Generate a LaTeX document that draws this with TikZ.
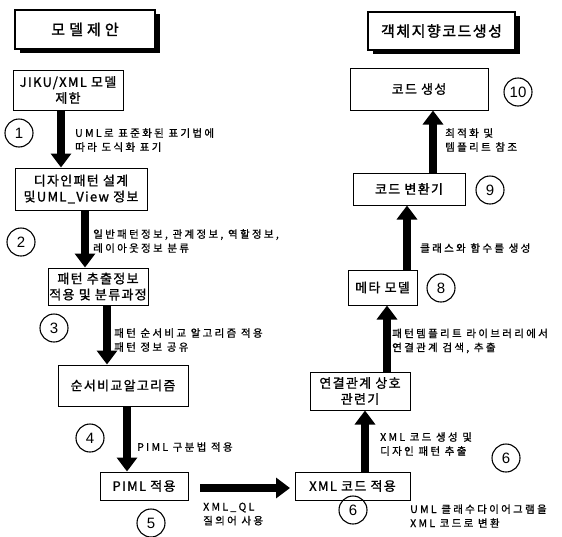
\documentclass[tikz,border=0pt]{standalone}
\usepackage{fontspec}
\setmainfont{Noto Sans CJK KR}
\newfontfamily\boxfont[LetterSpace=10, FakeBold=1.2]{Noto Sans CJK KR}
\newfontfamily\titlefontA[LetterSpace=27, FakeBold=1.5]{Noto Sans CJK KR}
\newfontfamily\titlefontB[LetterSpace=10, FakeBold=1.5]{Noto Sans CJK KR}
\newfontfamily\notefont[LetterSpace=22, FakeBold=0.8]{Noto Sans CJK KR}
\newfontfamily\numfont{Liberation Sans}
\usetikzlibrary{arrows.meta,shadows}
\tikzset{
  titlebox/.style={draw, line width=1.1pt, fill=white, inner sep=0pt,
    drop shadow={shadow xshift=4.5pt, shadow yshift=-4pt, fill=black, opacity=1}},
  procbox/.style={draw, line width=1pt, fill=white, inner sep=0pt, align=center,
    font=\boxfont\fontsize{13}{16}\selectfont},
  numcirc/.style={draw, circle, line width=1.1pt, minimum size=28pt, inner sep=0pt,
    font=\numfont\fontsize{15}{15}\selectfont},
  note/.style={anchor=west, align=left, inner sep=0pt,
    font=\notefont\fontsize{10.5}{14}\selectfont},
  fat/.style={line width=7.5pt, -{Triangle[width=20pt,length=14pt]}},
}
\begin{document}
\begin{tikzpicture}[x=1pt,y=-1pt]
\useasboundingbox (0,0) rectangle (562,536);
% titles
\node[titlebox, minimum width=140pt, minimum height=39pt, font=\titlefontA\fontsize{15}{17}\selectfont] (tl) at (85,29.5) {모델제안};
\node[titlebox, minimum width=147pt, minimum height=38pt, font=\titlefontB\fontsize{15}{17}\selectfont] (tr) at (441.5,31) {객체지향코드생성};
% left column boxes
\node[procbox, minimum width=110pt, minimum height=40pt] (p1) at (68,90) {JIKU/XML 모델\\제한};
\node[procbox, minimum width=132pt, minimum height=42pt] (p2) at (81,189) {디자인패턴 설계\\및UML\_View 정보};
\node[procbox, minimum width=100pt, minimum height=37pt] (p3) at (98,286.5) {패턴 추출정보\\적용 및 분류과정};
\node[procbox, minimum width=130pt, minimum height=41pt] (p4) at (123,385.5) {순서비교알고리즘};
\node[procbox, minimum width=88pt, minimum height=28pt] (p5) at (144,486) {PIML 적용};
% right column boxes
\node[procbox, minimum width=115pt, minimum height=28pt] (p6) at (352.5,486) {XML 코드 적용};
\node[procbox, minimum width=100pt, minimum height=38pt] (p7) at (360,391) {연결관계 상호\\관련기};
\node[procbox, minimum width=69pt, minimum height=35pt] (p8) at (382.5,287.5) {메타 모델};
\node[procbox, minimum width=112pt, minimum height=32pt] (p9) at (409,189) {코드 변환기};
\node[procbox, minimum width=138pt, minimum height=42pt] (p10) at (419,89) {코드 생성};
% numbered circles
\node[numcirc] (c1) at (19,133) {1};
\node[numcirc] (c2) at (21,242) {2};
\node[numcirc] (c3) at (54,328) {3};
\node[numcirc] (c4) at (90,438) {4};
\node[numcirc] (c5) at (151,523) {5};
\node[numcirc] (c6a) at (353,510) {6};
\node[numcirc] (c6b) at (506,458) {6};
\node[numcirc] (c8) at (441,288) {8};
\node[numcirc] (c9) at (490,190) {9};
\node[numcirc] (c10) at (518,92) {10};
% notes
\node[note] (n1) at (75,140) {UML로 표준화된 표기법에\\따라 도식화 표기};
\node[note] (n2) at (93,241) {일반패턴정보, 관계정보, 역할정보,\\레이아웃정보 분류};
\node[note] (n3) at (114,340) {패턴 순서비교 알고리즘 적용\\패턴 정보 공유};
\node[note] (n4) at (137,447) {PIML 구분법 적용};
\node[note] (n5) at (203,514) {XML\_QL\\질의어 사용};
\node[note] (n6) at (380,444) {XML 코드 생성 및\\디자인 패턴 추출};
\node[note] (n7) at (410,516) {UML 클래수다이어그램을\\XML 코드로 변환};
\node[note] (n8) at (392,341) {패턴템플리트 라이브러리에서\\연결관계 검색, 추출};
\node[note] (n9) at (420,248) {클래스와 함수를 생성};
\node[note] (n10) at (445,140) {최적화 및\\템플리트 참조};
% arrow columns
\coordinate (k1) at (61,0);
\coordinate (k2) at (85,0);
\coordinate (k3) at (107,0);
\coordinate (k4) at (127,0);
\coordinate (k6) at (365,0);
\coordinate (k7) at (387,0);
\coordinate (k8) at (407,0);
\coordinate (k9) at (433,0);
\coordinate (s5) at (200,488);
\coordinate (e5) at (290,488);
% arrows
\draw[fat] (p1.south -| k1) -- (p2.north -| k1);
\draw[fat] (p2.south -| k2) -- (p3.north -| k2);
\draw[fat] (p3.south -| k3) -- (p4.north -| k3);
\draw[fat] (p4.south -| k4) -- (p5.north -| k4);
\draw[fat] (s5) -- (e5);
\draw[fat] (p6.north -| k6) -- (p7.south -| k6);
\draw[fat] (p7.north -| k7) -- (p8.south -| k7);
\draw[fat] (p8.north -| k8) -- (p9.south -| k8);
\draw[fat] (p9.north -| k9) -- (p10.south -| k9);
\end{tikzpicture}
\end{document}
